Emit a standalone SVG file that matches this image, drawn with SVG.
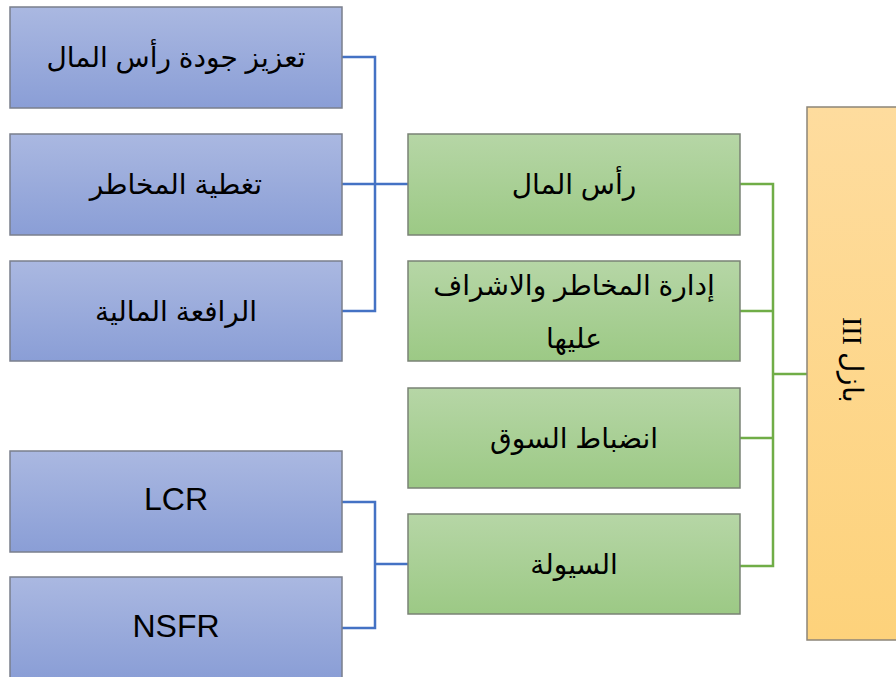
<svg xmlns="http://www.w3.org/2000/svg" width="896" height="677" viewBox="0 0 896 677">
<defs>
<linearGradient id="gb" x1="0" y1="0" x2="0" y2="1"><stop offset="0" stop-color="#aab8e1"/><stop offset="1" stop-color="#8a9ed6"/></linearGradient>
<linearGradient id="gg" x1="0" y1="0" x2="0" y2="1"><stop offset="0" stop-color="#b6d6a6"/><stop offset="1" stop-color="#9cc985"/></linearGradient>
<linearGradient id="go" x1="0" y1="0" x2="0" y2="1"><stop offset="0" stop-color="#fedc9e"/><stop offset="1" stop-color="#fdd27b"/></linearGradient>
</defs>
<style>
.b{fill:url(#gb);stroke:#7a7f8c;stroke-width:1.5}
.g{fill:url(#gg);stroke:#7a8275;stroke-width:1.5}
.o{fill:url(#go);stroke:#8c8578;stroke-width:1.5}
.t{font-family:"Liberation Sans","DejaVu Sans",sans-serif;font-size:28px;fill:#000;text-anchor:middle;dominant-baseline:central}
.l{font-family:"Liberation Sans",Arial,sans-serif;font-size:32px;fill:#000;text-anchor:middle}
.s{font-family:"Liberation Serif","DejaVu Serif",serif;font-size:28px;fill:#000;text-anchor:middle;dominant-baseline:central}
.cb{fill:none;stroke:#4472c4;stroke-width:2.5}
.cg{fill:none;stroke:#70ad47;stroke-width:2.5}
</style>
<g id="connectors">
<path class="cb" d="M342 57H375V311H342M342 184H408"/>
<path class="cb" d="M342 502H375V628H342M375 564H408"/>
<path class="cg" d="M740 184H773V566H740M740 311H773M740 438H773M773 374H807"/>
</g>
<g id="n1"><rect class="b" x="10" y="7" width="332" height="101"/><text class="t" x="176" y="57" direction="rtl">تعزيز جودة رأس المال</text></g>
<g id="n2"><rect class="b" x="10" y="134" width="332" height="101"/><text class="t" x="176" y="184" direction="rtl">تغطية المخاطر</text></g>
<g id="n3"><rect class="b" x="10" y="261" width="332" height="100"/><text class="t" x="176" y="311" direction="rtl">الرافعة المالية</text></g>
<g id="n4"><rect class="b" x="10" y="451" width="332" height="101"/><text class="l" x="176" y="510">LCR</text></g>
<g id="n5"><rect class="b" x="10" y="577" width="332" height="101"/><text class="l" x="176" y="637">NSFR</text></g>
<g id="g1"><rect class="g" x="408" y="134" width="332" height="101"/><text class="t" x="574" y="184" direction="rtl">رأس المال</text></g>
<g id="g2"><rect class="g" x="408" y="261" width="332" height="100"/><text class="t" x="574" y="285" direction="rtl">إدارة المخاطر والاشراف</text><text class="t" x="574" y="338" direction="rtl">عليها</text></g>
<g id="g3"><rect class="g" x="408" y="388" width="332" height="100"/><text class="t" x="574" y="438" direction="rtl">انضباط السوق</text></g>
<g id="g4"><rect class="g" x="408" y="514" width="332" height="100"/><text class="t" x="574" y="564" direction="rtl">السيولة</text></g>
<g id="basel"><rect class="o" x="807" y="107" width="100" height="533"/><text class="s" transform="translate(852 360) rotate(90)" direction="rtl">بازل III</text></g>
</svg>
